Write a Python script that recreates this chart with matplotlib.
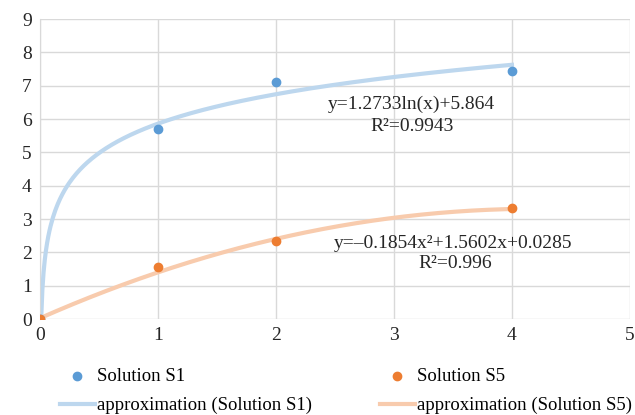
import numpy as np
import matplotlib
matplotlib.use('Agg')
import matplotlib.pyplot as plt

plt.rcParams['font.family'] = ['Liberation Serif', 'DejaVu Serif']

x_pts = [0, 1, 2, 4]
s1 = [0, 5.70, 7.11, 7.44]
s5 = [0, 1.56, 2.34, 3.33]

# trendline coefficients (as shown on the chart)
a_ln, b_ln = 1.2733, 5.864
p2, p1, p0 = -0.1854, 1.5602, 0.0285

fig = plt.figure(figsize=(6.35, 4.15), dpi=100)
ax = fig.add_axes([0.063, 0.231, 0.929, 0.723])

x_ln = np.linspace(np.exp(-b_ln / a_ln), 4, 400)
x_ln = np.concatenate([[0], x_ln])
y_ln = np.concatenate([[0], a_ln * np.log(x_ln[1:]) + b_ln])
x_poly = np.linspace(0, 4, 200)
y_poly = p2 * x_poly**2 + p1 * x_poly + p0

ax.scatter(x_pts, s1, color='#5B9BD5', s=36, zorder=3, label='Solution S1')
ax.plot(x_ln, y_ln, color='#BDD7EE', lw=3, zorder=2,
        label='approximation (Solution S1)')
ax.scatter(x_pts, s5, color='#ED7D31', s=36, zorder=3, label='Solution S5')
ax.plot(x_poly, y_poly, color='#F8CBAD', lw=3, zorder=2,
        label='approximation (Solution S5)')

txt = dict(ha='center', va='center', fontsize=14, color='#262626')
ax.text(3.15, 6.43, 'y=1.2733ln(x)+5.864', **txt)
ax.text(3.15, 5.78, 'R\u00b2=0.9943', **txt)
ax.text(3.5, 2.28, 'y=\u20130.1854x\u00b2+1.5602x+0.0285', **txt)
ax.text(3.52, 1.68, 'R\u00b2=0.996', **txt)

ax.set_xlim(0, 5)
ax.set_ylim(0, 9)
ax.set_xticks(range(6))
ax.set_yticks(range(10))
ax.grid(True, color='#D9D9D9', lw=1)
ax.set_axisbelow(True)
for sp in ['top', 'right', 'bottom']:
    ax.spines[sp].set_visible(False)
ax.spines['left'].set_color('#D9D9D9')
ax.tick_params(length=0, labelsize=14, colors='#262626', pad=6)

h, l = ax.get_legend_handles_labels()
fig.legend(h, l, ncol=2, loc='upper left', bbox_to_anchor=(0.082, 0.1325),
           borderaxespad=0, frameon=False, fontsize=13.5, handlelength=1.9,
           handletextpad=0.1, columnspacing=3.6, labelspacing=0.65)

fig.savefig('out.png', dpi=100)
